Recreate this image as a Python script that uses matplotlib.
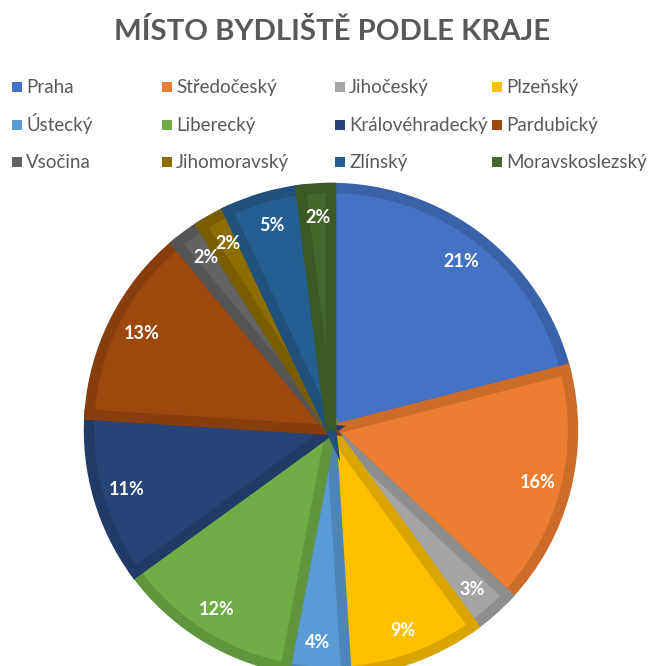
import matplotlib.pyplot as plt
import matplotlib.colors as mcolors
from matplotlib.patches import Rectangle

plt.rcParams['font.family'] = ['Lato', 'DejaVu Sans']

# data
kraje = ['Praha', 'Středočeský', 'Jihočeský', 'Plzeňský',
         'Ústecký', 'Liberecký', 'Královéhradecký', 'Pardubický',
         'Vsočina', 'Jihomoravský', 'Zlínský', 'Moravskoslezský']
podil = [21, 16, 3, 9, 4, 12, 11, 13, 2, 2, 5, 2]
barvy = ['#4472C4', '#ED7D31', '#A5A5A5', '#FFC000',
         '#5B9BD5', '#70AD47', '#264478', '#9E480E',
         '#636363', '#8C6D00', '#255E91', '#43682B']
title = 'MÍSTO BYDLIŠTĚ PODLE KRAJE'

W, H = 664, 666
fig = plt.figure(figsize=(W / 100, H / 100), dpi=100)

# pie axes (center ~ (331, 430) px, radius ~242 px)
cx, cy, r = 331, 430, 242
ax = fig.add_axes([(cx - r) / W, (H - cy - r) / H, 2 * r / W, 2 * r / H])


def darker(c, k=0.86):
    rgb = mcolors.to_rgb(c)
    return tuple(v * k for v in rgb)


wedges, texts, autotexts = ax.pie(
    podil, colors=barvy, startangle=90, counterclock=False,
    autopct=lambda p: f'{p:.0f}%', pctdistance=0.88, radius=1,
    textprops=dict(color='white', fontsize=13, fontweight='bold'))
for w, c in zip(wedges, barvy):
    w.set_edgecolor(darker(c))
    w.set_linewidth(7.5)
    w.set_clip_path(w)
ax.set_xlim(-1, 1)
ax.set_ylim(-1, 1)
ax.set_aspect('equal')

# title
fig.text(0.5, 1 - 32 / H, title, ha='center', va='center',
         fontsize=21.2, fontweight='bold', color='#595959')

# legend, 4 columns x 3 rows
col_x = [12, 162, 335, 492]
row_y = [87, 125, 162]
for i, (name, c) in enumerate(zip(kraje, barvy)):
    x = col_x[i % 4]
    y = row_y[i // 4]
    fig.patches.append(Rectangle((x / W, (H - y - 5) / H), 10 / W, 10 / H,
                                 facecolor=c, edgecolor='none',
                                 transform=fig.transFigure))
    fig.text((x + 14) / W, 1 - (y + 6) / H, name, ha='left', va='baseline',
             fontsize=13.5, color='#595959')

plt.savefig('out.png', dpi=100)
plt.close()
